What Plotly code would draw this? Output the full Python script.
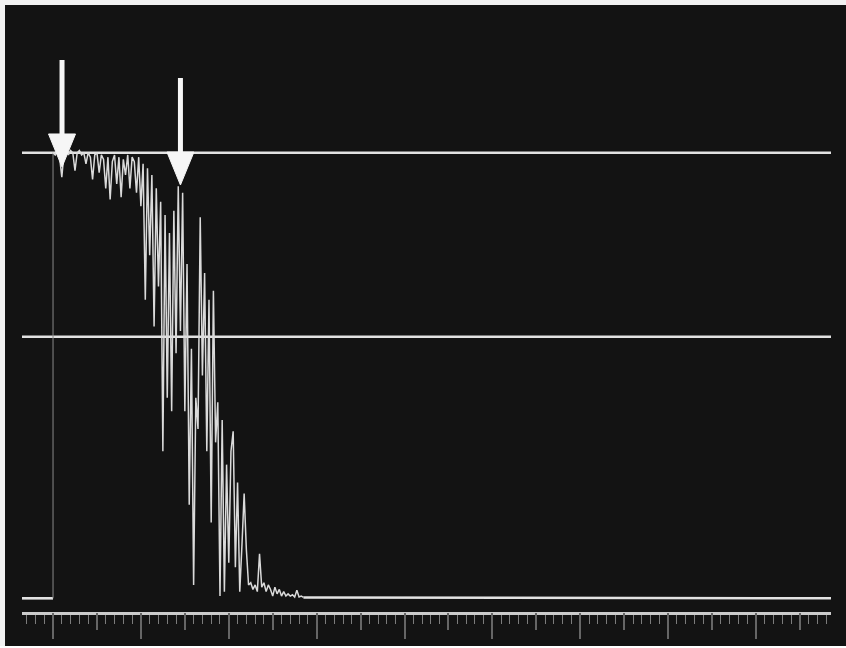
import numpy as np
import plotly.graph_objects as go

# --- recorded signal -------------------------------------------------------
SAMPLE_MS = 0.5  # sampling interval of the captured trace

# amplitude (% of plateau) for every sample after the trigger
signal_pct = [
    100, 99.5, 100.5, 99, 94.5, 100, 100.5, 99.5, 100.5, 100,
    96, 100, 100.5, 99.5, 100, 97.5, 100, 99, 94, 99.5,
    100, 95.5, 99.5, 98.5, 92, 99, 89.5, 98, 99.5, 93,
    99, 90, 98.5, 95, 99.5, 92, 99, 98, 91, 99,
    88, 97.5, 67, 96.5, 77, 95, 61, 92, 70, 89,
    33, 86, 45, 82, 42, 87, 55, 92.5, 60, 91,
    42, 75, 21, 56, 3, 45, 38, 85.5, 50, 73,
    33, 67, 17, 69, 35, 44, 0.5, 40, 1.5, 30,
    8, 33, 37.5, 7, 26, 1.5, 12, 23.5, 11, 3,
    3.5, 2, 3, 1.5, 10, 2.5, 3.5, 1.5, 3, 2,
    0.5, 2.5, 1, 2, 0.5, 1.5, 0.5, 1, 0.5, 0.8,
    0.3, 1.8, 0.3, 0.5, 0.2,
]
signal_ms = np.arange(len(signal_pct)) * SAMPLE_MS

# flat baseline before the trigger and after the decay
pre_ms = [-7.06, 0.0]
pre_pct = [0, 0]
post_ms = [signal_ms[-1], 177.06]
post_pct = [signal_pct[-1], 0]

# reference levels and event markers
ref_levels_pct = [100, 58.7]
marker_ms = [2.05, 29.0]
marker_tip_pct = [96.8, 92.75]

X_RANGE = [-7.06, 177.06]
Y_RANGE = [-3.07, 133.15]

BG = "#131313"
TRACE = "#dadada"
BRIGHT = "#e2e2e2"
TICK_MAJOR = "#666666"
TICK_MINOR = "#7c7c7c"

fig = go.Figure()

# reference lines spanning the whole sweep
for lvl in ref_levels_pct:
    fig.add_trace(go.Scatter(x=X_RANGE, y=[lvl, lvl], mode="lines",
                             line=dict(color=BRIGHT, width=2.6),
                             hoverinfo="skip", showlegend=False))

# pre-trigger baseline
fig.add_trace(go.Scatter(x=pre_ms, y=pre_pct, mode="lines",
                         line=dict(color=BRIGHT, width=2.6),
                         showlegend=False))
# fast step at the trigger (faint on the screen)
fig.add_trace(go.Scatter(x=[pre_ms[-1], signal_ms[0]], y=[pre_pct[-1], signal_pct[0]],
                         mode="lines", line=dict(color="#8a8a8a", width=1),
                         showlegend=False))
# decaying signal
fig.add_trace(go.Scatter(x=signal_ms, y=signal_pct, mode="lines",
                         line=dict(color=TRACE, width=1.5),
                         showlegend=False))
# baseline after the decay
fig.add_trace(go.Scatter(x=post_ms, y=post_pct, mode="lines",
                         line=dict(color=BRIGHT, width=2.6),
                         showlegend=False, xaxis="x2"))

# event arrows: shaft plus filled head, sized in screen pixels
for t, v in zip(marker_ms, marker_tip_pct):
    fig.add_shape(type="line", xref="x", yref="y",
                  xsizemode="pixel", ysizemode="pixel",
                  xanchor=t, yanchor=v, x0=0, x1=0, y0=30, y1=107,
                  line=dict(color="#f6f6f6", width=5))
    fig.add_shape(type="path", xref="x", yref="y",
                  xsizemode="pixel", ysizemode="pixel",
                  xanchor=t, yanchor=v,
                  path="M -13.5,33 L 13.5,33 L 0,0 Z",
                  fillcolor="#f6f6f6", line=dict(color="#f6f6f6", width=1))

# light frame along the top and left of the screen
frame = "#f2f2f2"
for x0, x1, y0, y1 in [(-0.03, -0.0210, -0.07, 1.02),
                       (-0.03, 1.03, 1.0, 1.02)]:
    fig.add_shape(type="rect", xref="paper", yref="paper",
                  x0=x0, x1=x1, y0=y0, y1=y1, fillcolor=frame,
                  line=dict(width=0), layer="below")

fig.update_layout(
    width=846, height=646,
    margin=dict(l=22, r=15, t=5, b=34),
    paper_bgcolor=BG, plot_bgcolor=BG,
    showlegend=False,
    xaxis=dict(range=X_RANGE, showgrid=False, zeroline=False,
               showticklabels=False, showline=True, linecolor="#cbcbcb",
               linewidth=3, ticks="outside", tick0=0, dtick=20,
               ticklen=24, tickwidth=1.5, tickcolor=TICK_MAJOR,
               minor=dict(ticks="outside", tick0=0, dtick=2, ticklen=9,
                          tickwidth=1.2, tickcolor=TICK_MINOR)),
    xaxis2=dict(matches="x", overlaying="x", anchor="y", side="bottom",
                showgrid=False, zeroline=False, showticklabels=False,
                showline=False, ticks="outside", tick0=0, dtick=10,
                ticklen=17, tickwidth=1.5, tickcolor=TICK_MAJOR),
    yaxis=dict(range=Y_RANGE, visible=False, showgrid=False, zeroline=False),
)

fig.write_html("out.html")
